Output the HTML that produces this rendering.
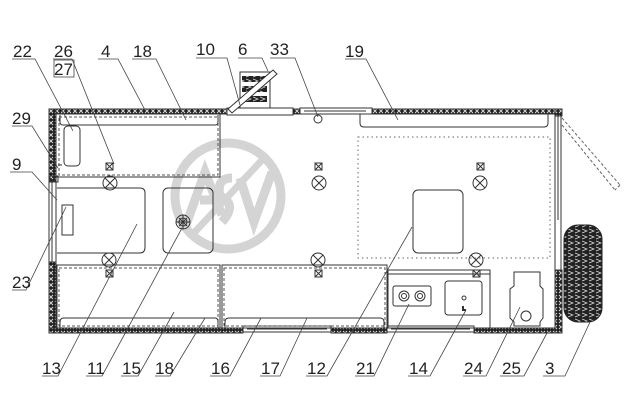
<!DOCTYPE html>
<html><head><meta charset="utf-8"><style>
html,body{margin:0;padding:0;background:#fff;}
svg{display:block;}
text{font-family:"Liberation Sans",sans-serif;font-size:17px;fill:#222;}
</style></head><body>
<svg width="630" height="420" viewBox="0 0 630 420" xmlns="http://www.w3.org/2000/svg">
<defs>
<pattern id="h" width="6" height="6" patternUnits="userSpaceOnUse">
<rect width="6" height="6" fill="#222"/>
<path d="M1 1L5 5M5 1L1 5" stroke="#ddd" stroke-width="0.9"/>
</pattern>
<pattern id="tr" width="7" height="6" patternUnits="userSpaceOnUse">
<rect width="7" height="6" fill="#222"/>
<path d="M1 1L6 3L1 5" stroke="#ddd" stroke-width="0.7" fill="none"/>
</pattern>
</defs>
<circle cx="228" cy="196" r="53" fill="none" stroke="#d4d4d4" stroke-width="9"/>
<path d="M186 225L205 172L222 215M200 200L215 200M232 178Q216 178 220 196Q238 204 222 222M240 178L254 222L272 172" fill="none" stroke="#d4d4d4" stroke-width="9"/>
<path d="M192 235L262 160" stroke="#d4d4d4" stroke-width="7"/>
<g stroke="#333" fill="none" stroke-width="1">
<rect x="49" y="109" width="178" height="5" fill="url(#h)"/>
<rect x="293" y="109" width="7" height="5" fill="url(#h)"/>
<rect x="372" y="109" width="190" height="5" fill="url(#h)"/>
<rect x="49" y="109" width="7" height="72" fill="url(#h)"/>
<rect x="49" y="262" width="7" height="71" fill="url(#h)"/>
<rect x="49" y="328" width="194" height="5" fill="url(#h)"/>
<rect x="331" y="328" width="56" height="5" fill="url(#h)"/>
<rect x="474" y="328" width="88" height="5" fill="url(#h)"/>
<rect x="555" y="270" width="7" height="63" fill="url(#h)"/>
<rect x="555" y="109" width="7" height="7" fill="url(#h)"/>
<rect x="227" y="108" width="66" height="7"/>
<rect x="300" y="108" width="72" height="6"/>
<line x1="304" y1="111" x2="366" y2="111"/>
<circle cx="318" cy="119" r="4"/>
<rect x="243" y="326" width="88" height="6"/>
<line x1="247" y1="329" x2="327" y2="329"/>
<rect x="387" y="326" width="87" height="6"/>
<line x1="391" y1="329" x2="470" y2="329"/>
<rect x="49" y="181" width="7" height="81"/>
<line x1="52" y1="181" x2="52" y2="262"/>
<rect x="50" y="176" width="8" height="6"/>
<rect x="555" y="116" width="6" height="154"/>
<line x1="558" y1="116" x2="558" y2="220"/>
<path d="M562 118L620 185M562 125L615 190M620 185L615 190" stroke-dasharray="3,2" stroke="#666"/>
<rect x="240" y="72" width="30" height="36" fill="#fff"/>
<rect x="242" y="76" width="25" height="6" fill="url(#tr)" stroke="none"/>
<rect x="242" y="86" width="25" height="6" fill="url(#tr)" stroke="none"/>
<rect x="242" y="96" width="25" height="6" fill="url(#tr)" stroke="none"/>
<path d="M228 109L273 70L277 74L232 113Z" fill="#fff"/>
<rect x="56" y="114" width="164" height="63"/>
<rect x="59" y="117" width="159" height="58" stroke-dasharray="3,2" stroke="#555"/>
<path d="M60 115V122Q60 125 63 125H215Q218 125 218 122V115"/>
<rect x="64" y="126" width="16" height="40" rx="4"/>
<line x1="58" y1="165" x2="62" y2="165"/>
<g>
<rect x="106" y="163" width="7" height="7"/><path d="M106 163l7 7M113 163l-7 7"/>
<circle cx="110" cy="183" r="7"/><path d="M105 178l10 10M115 178l-10 10"/>
<rect x="315" y="163" width="7" height="7"/><path d="M315 163l7 7M322 163l-7 7"/>
<circle cx="319" cy="183" r="7"/><path d="M314 178l10 10M324 178l-10 10"/>
<rect x="477" y="163" width="7" height="7"/><path d="M477 163l7 7M484 163l-7 7"/>
<circle cx="480" cy="183" r="7"/><path d="M475 178l10 10M485 178l-10 10"/>
<circle cx="109" cy="260" r="7"/><path d="M104 255l10 10M114 255l-10 10"/>
<rect x="106" y="270" width="7" height="7"/><path d="M106 270l7 7M113 270l-7 7"/>
<circle cx="318" cy="260" r="7"/><path d="M313 255l10 10M323 255l-10 10"/>
<rect x="315" y="270" width="7" height="7"/><path d="M315 270l7 7M322 270l-7 7"/>
<circle cx="476" cy="260" r="7"/><path d="M471 255l10 10M481 255l-10 10"/>
<rect x="473" y="270" width="7" height="7"/><path d="M473 270l7 7M480 270l-7 7"/>
</g>
<path d="M57 188H140Q145 188 145 193V247Q145 253 140 253H57"/>
<rect x="163" y="188" width="50" height="65" rx="5"/>
<circle cx="183" cy="222" r="7"/><circle cx="183" cy="222" r="4"/>
<path d="M179 218l8 8M187 218l-8 8M183 215v14M176 222h14"/>
<rect x="62" y="205" width="11" height="30"/>
<rect x="358" y="137" width="192" height="121" stroke-dasharray="1.5,3" stroke="#666"/>
<path d="M360 114V123Q360 127 364 127H544Q548 127 548 123V114"/>
<rect x="413" y="190" width="50" height="63" rx="5"/>
<rect x="57" y="265" width="163" height="63"/>
<rect x="59" y="268" width="159" height="58" stroke-dasharray="3,2" stroke="#555"/>
<path d="M60 328V322Q60 318 64 318H215Q218 318 218 322V328"/>
<rect x="222" y="265" width="165" height="63"/>
<rect x="224" y="268" width="161" height="58" stroke-dasharray="3,2" stroke="#555"/>
<path d="M225 328V322Q225 318 229 318H380Q384 318 384 322V328"/>
<rect x="388" y="270" width="102" height="58"/>
<line x1="388" y1="274" x2="490" y2="274"/>
<rect x="393" y="286" width="38" height="20" rx="2"/>
<circle cx="404" cy="296" r="5"/><circle cx="404" cy="296" r="2.5"/>
<circle cx="420" cy="296" r="5"/><circle cx="420" cy="296" r="2.5"/>
<rect x="445" y="281" width="37" height="34" rx="3"/>
<circle cx="464" cy="298" r="2"/>
<path d="M463 306v4h3" stroke-width="2"/>
<path d="M514 272H540V286L543 289V318L540 322V326H514V322L510 318V289L514 286Z"/>
<circle cx="526" cy="316" r="5"/>
<rect x="564" y="225" width="38" height="97" rx="14" fill="url(#tr)" stroke="#222"/>
<g stroke="#444" stroke-width="0.8">
<path d="M12 59H35L73 131"/>
<path d="M53 59H72L114 164"/>
<path d="M98 59H118L145 110"/>
<path d="M132 59H156L186 120"/>
<path d="M196 58H227L240 105"/>
<path d="M238 58H262L268 71"/>
<path d="M270 58H295L318 117"/>
<path d="M345 59H366L398 120"/>
<path d="M12 126H32L58 168"/>
<path d="M10 172H32L57 200"/>
<path d="M12 290H26L66 207"/>
<path d="M42 376H58L137 224"/>
<path d="M86 376H102L182 228"/>
<path d="M121 376H138L174 312"/>
<path d="M155 376H170L205 318"/>
<path d="M210 376H230L261 318"/>
<path d="M260 376H280L307 318"/>
<path d="M306 376H327L412 227"/>
<path d="M355 376H374L409 304"/>
<path d="M408 376H430L466 310"/>
<path d="M463 376H486L520 307"/>
<path d="M500 376H524L547 333"/>
<path d="M543 376H565L590 322"/>
</g>
<rect x="54" y="60" width="20" height="17" stroke="#444" stroke-width="0.8"/>
</g>
<g>
<text x="13" y="57">22</text><text x="54" y="57">26</text><text x="54" y="75">27</text>
<text x="101" y="57">4</text><text x="133" y="57">18</text><text x="196" y="55">10</text>
<text x="238" y="55">6</text><text x="270" y="55">33</text><text x="345" y="57">19</text>
<text x="12" y="124">29</text><text x="12" y="170">9</text><text x="12" y="288">23</text>
<text x="42" y="374">13</text><text x="87" y="374">11</text><text x="122" y="374">15</text>
<text x="155" y="374">18</text><text x="211" y="374">16</text><text x="261" y="374">17</text>
<text x="307" y="374">12</text><text x="356" y="374">21</text><text x="409" y="374">14</text>
<text x="464" y="374">24</text><text x="502" y="374">25</text><text x="545" y="374">3</text>
</g>
</svg>
</body></html>
